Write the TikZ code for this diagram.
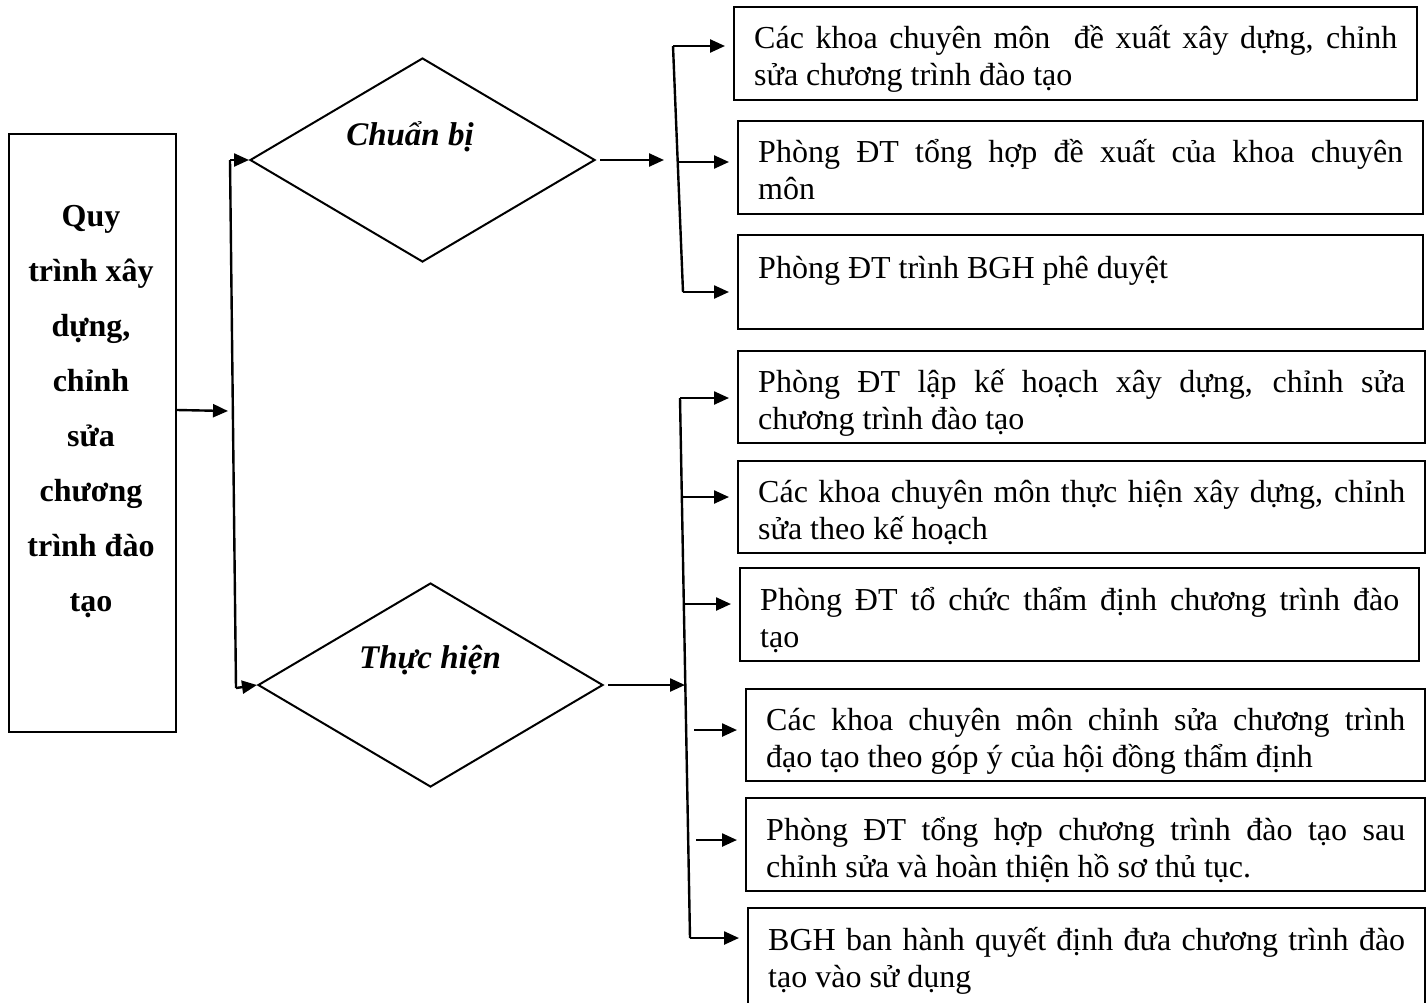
\documentclass[tikz,border=0pt]{standalone}
\usepackage{fontspec}
\setmainfont{Liberation Serif}
\usetikzlibrary{arrows.meta,shapes.geometric}
\begin{document}
\begin{tikzpicture}[x=1pt,y=-1pt,
  box/.style={draw, line width=2pt, rectangle, inner sep=0pt, anchor=north west},
  txt/.style={anchor=base west, inner sep=0pt, align=justify, font=\fontsize{32}{37}\selectfont},
  dia/.style={draw, line width=2pt, diamond, inner sep=0pt, minimum width=345pt, minimum height=204pt},
  dtxt/.style={font=\bfseries\itshape\fontsize{33}{37}\selectfont, inner sep=0pt},
  arr/.style={line width=2.4pt, -{Triangle[length=15pt,width=13pt]}},
  tobox/.style={arr, shorten >=8pt},
  bus/.style={line width=2.4pt}]
\useasboundingbox (0,0) rectangle (1426,1002);
\clip (0,0) rectangle (1426,1002);

% left box
\node[box, minimum width=167pt, minimum height=598pt] (lb) at (8,133) {};
\node[align=center, inner sep=0pt, font=\bfseries\fontsize{32}{55}\selectfont] (lbt) at (91,412)
  {Quy\\trình xây\\dựng,\\chỉnh\\sửa\\chương\\trình đào\\tạo};

% diamonds
\node[dia] (d1) at (422.5,160) {};
\node[dtxt] (d1t) at (410,137) {Chuẩn bị};
\node[dia] (d2) at (430.5,685) {};
\node[dtxt] (d2t) at (430,660) {Thực hiện};

% right boxes
\node[box, minimum width=683pt, minimum height=93pt] (b1) at (733,6) {};
\node[box, minimum width=685pt, minimum height=93pt] (b2) at (737,120) {};
\node[box, minimum width=685pt, minimum height=94pt] (b3) at (737,234) {};
\node[box, minimum width=687pt, minimum height=92pt] (b4) at (737,350) {};
\node[box, minimum width=687pt, minimum height=92pt] (b5) at (737,460) {};
\node[box, minimum width=679pt, minimum height=93pt] (b6) at (739,567) {};
\node[box, minimum width=679pt, minimum height=92pt] (b7) at (745,688) {};
\node[box, minimum width=679pt, minimum height=93pt] (b8) at (745,797) {};
\node[box, minimum width=677pt, minimum height=120pt] (b9) at (747,907) {};

\node[txt, text width=643pt] (t1) at (754,48) {Các khoa chuyên môn\ \ đề xuất xây dựng, chỉnh\linebreak sửa chương trình đào tạo};
\node[txt, text width=645pt] (t2) at (758,162) {Phòng ĐT tổng hợp đề xuất của khoa chuyên\linebreak môn};
\node[txt, text width=645pt] (t3) at (758,278) {Phòng ĐT trình BGH phê duyệt};
\node[txt, text width=647pt] (t4) at (758,392) {Phòng ĐT lập kế hoạch xây dựng, chỉnh sửa\linebreak chương trình đào tạo};
\node[txt, text width=647pt] (t5) at (758,502) {Các khoa chuyên môn thực hiện xây dựng, chỉnh\linebreak sửa theo kế hoạch};
\node[txt, text width=639pt] (t6) at (760,610) {Phòng ĐT tổ chức thẩm định chương trình đào\linebreak tạo};
\node[txt, text width=639pt] (t7) at (766,730) {Các khoa chuyên môn chỉnh sửa chương trình\linebreak đạo tạo theo góp ý của hội đồng thẩm định};
\node[txt, text width=639pt] (t8) at (766,840) {Phòng ĐT tổng hợp chương trình đào tạo sau\linebreak chỉnh sửa và hoàn thiện hồ sơ thủ tục.};
\node[txt, text width=637pt] (t9) at (768,950) {BGH ban hành quyết định đưa chương trình đào\linebreak tạo vào sử dụng};

% left bus
\coordinate (lin) at (228,411);
\coordinate (lbus1) at (230,160);
\coordinate (lbus2) at (236,688);
\draw[arr] (lb.east |- 0,410) -- (lin);
\draw[bus] (lbus1) -- (lbus2);
\draw[arr] (lbus1) -- (d1.west);
\draw[arr] (lbus2) -- (d2.west);

% right bus 1
\coordinate (r1in) at (664,160);
\coordinate (r1a) at (673,46);
\coordinate (r1b) at (677,162);
\coordinate (r1c) at (683,292);
\draw[arr, shorten <=4pt] (d1.east) -- (r1in);
\draw[bus] (r1a) -- (r1c);
\draw[tobox] (r1a) -- (r1a -| b1.west);
\draw[tobox] (r1b) -- (r1b -| b2.west);
\draw[tobox] (r1c) -- (r1c -| b3.west);

% right bus 2
\coordinate (r2in) at (685,685);
\coordinate (r2a) at (680,398);
\coordinate (r2b) at (682,497);
\coordinate (r2c) at (684,604);
\coordinate (r2d) at (694,730);
\coordinate (r2e) at (696,840);
\coordinate (r2f) at (690,938);
\draw[arr, shorten <=4pt] (d2.east) -- (r2in);
\draw[bus] (r2a) -- (r2f);
\draw[tobox] (r2a) -- (r2a -| b4.west);
\draw[tobox] (r2b) -- (r2b -| b5.west);
\draw[tobox] (r2c) -- (r2c -| b6.west);
\draw[tobox] (r2d) -- (r2d -| b7.west);
\draw[tobox] (r2e) -- (r2e -| b8.west);
\draw[tobox] (r2f) -- (r2f -| b9.west);
\end{tikzpicture}
\end{document}
